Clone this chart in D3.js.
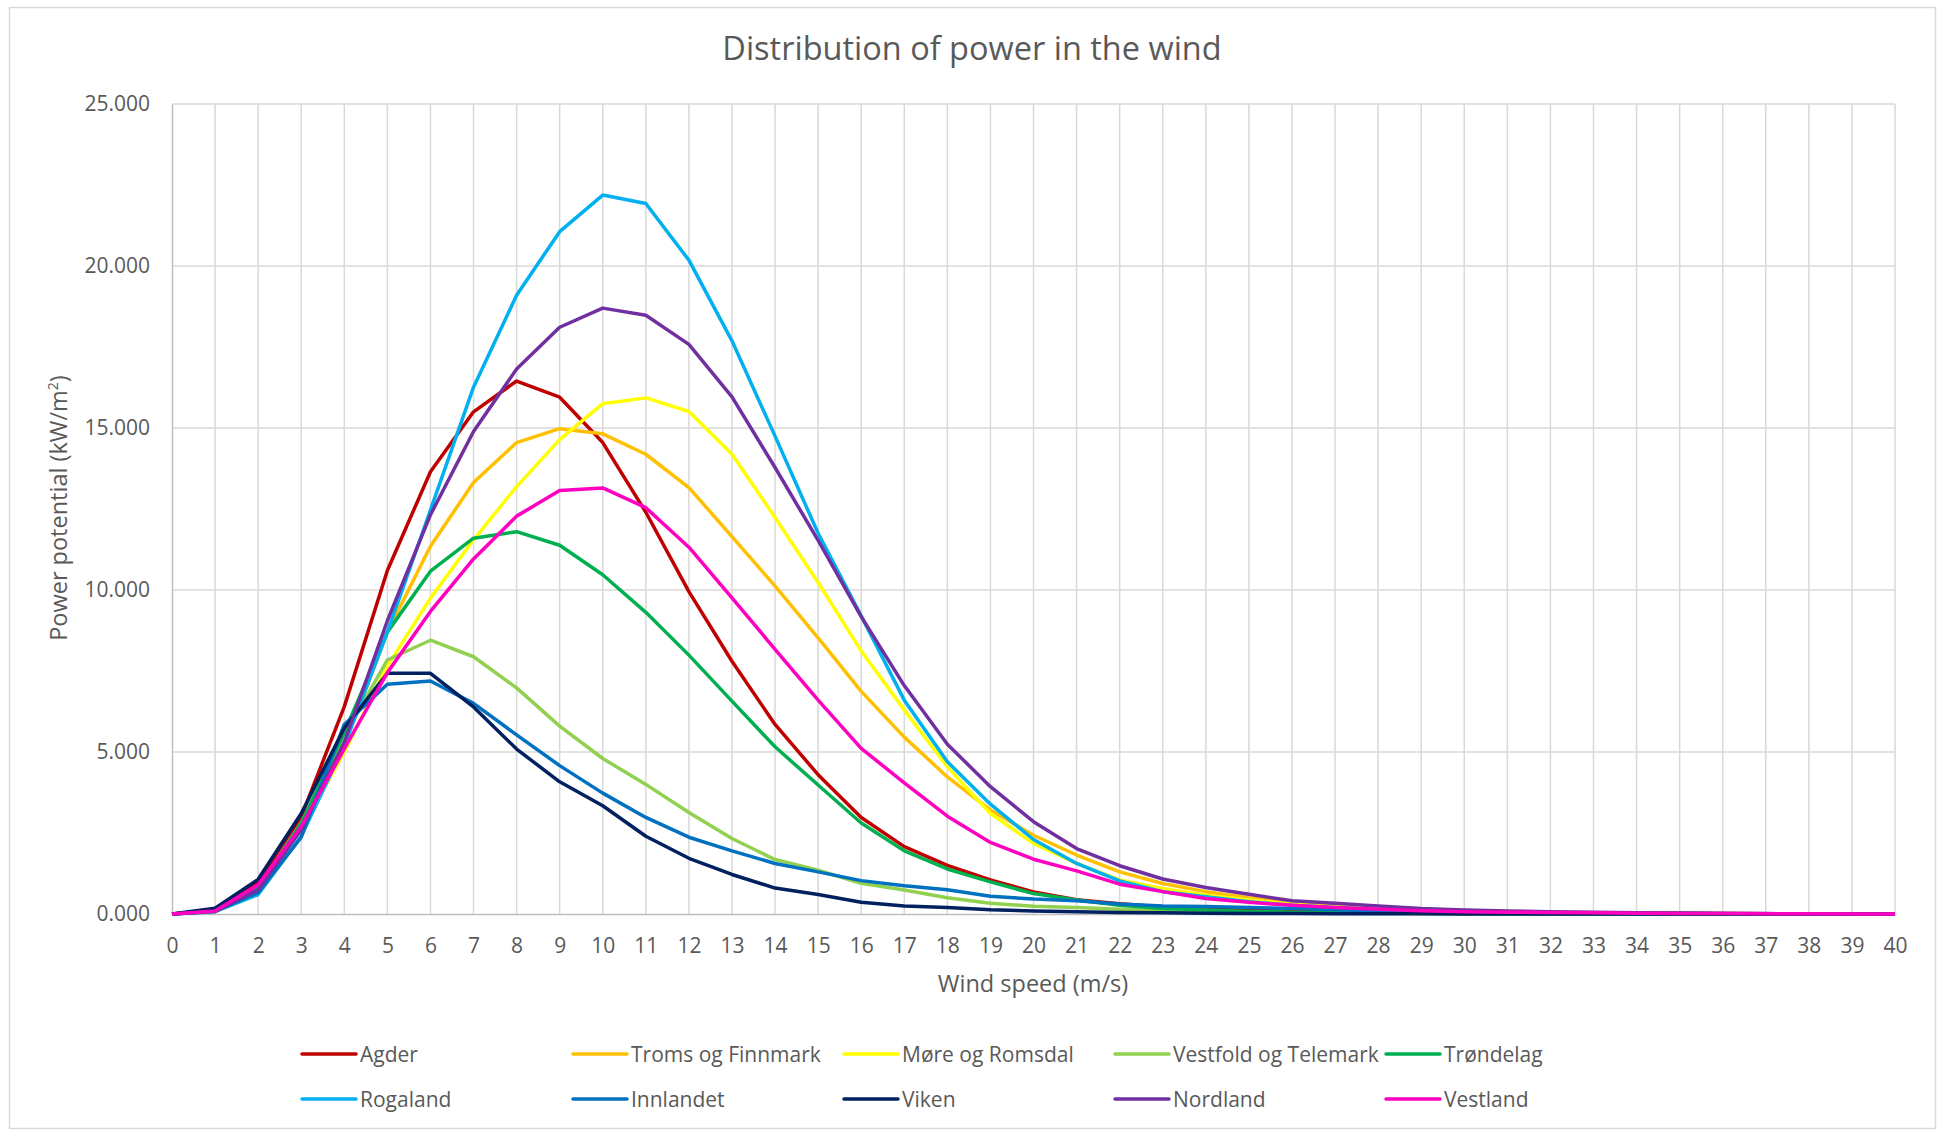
<!DOCTYPE html>
<html>
<head>
<meta charset="utf-8">
<script src="https://cdn.jsdelivr.net/npm/d3@7"></script>
<style>
  body { margin: 0; background: #fff; }
  text { font-family: "Open Sans", "Noto Sans", sans-serif; fill: #595959; }
</style>
</head>
<body>
<div id="chart"></div>
<script>
// wind speed categories 0..40 m/s
const speeds = d3.range(0, 41);
const yTicks = [0, 5000, 10000, 15000, 20000, 25000];

// power potential per region (kW/m2)
const agder    = [0,120,1000,3000,6400,10600,13650,15500,16450,15950,14550,12400,9950,7800,5850,4300,2980,2080,1500,1050,680,440,320,220,160,120,80,60,45,35,25,20,15,10,8,6,4,3,2,1,0];
const troms    = [0,90,800,2800,5200,8700,11350,13320,14550,14980,14820,14190,13160,11650,10120,8520,6870,5460,4230,3210,2430,1820,1300,940,690,500,340,250,170,120,80,60,50,40,30,20,15,10,6,3,0];
const more     = [0,80,750,2600,5000,7650,9750,11550,13190,14640,15750,15930,15510,14190,12240,10230,8120,6300,4540,3100,2180,1560,1050,790,580,430,300,220,150,100,70,50,35,25,18,12,8,5,3,2,0];
const vestfold = [0,90,800,2800,5500,7840,8450,7940,6980,5800,4800,4000,3130,2330,1680,1350,950,740,500,330,240,200,150,100,70,50,35,25,18,12,8,6,4,3,2,1,1,0,0,0,0];
const trondelag= [0,90,800,2800,5600,8700,10580,11600,11800,11380,10470,9310,7990,6570,5160,3980,2810,1950,1390,990,630,430,270,170,120,80,55,40,30,20,15,10,8,6,4,3,2,1,1,0,0];
const rogaland = [0,70,600,2400,5200,8700,12470,16260,19100,21060,22190,21930,20180,17690,14750,11750,9200,6600,4700,3390,2300,1560,1020,690,530,380,270,200,140,100,70,50,35,25,18,12,8,5,3,2,0];
const innlandet= [0,90,660,2370,5850,7090,7190,6500,5530,4580,3730,2980,2370,1950,1560,1300,1030,870,750,550,460,410,310,250,230,200,170,130,100,80,60,45,35,25,18,12,8,5,3,2,0];
const viken    = [0,180,1070,3100,5740,7430,7430,6390,5090,4080,3340,2400,1720,1220,800,600,360,250,200,130,90,70,50,35,25,18,12,8,6,4,3,2,1,1,0,0,0,0,0,0,0];
const nordland = [0,80,750,2600,5300,9050,12320,14890,16820,18110,18700,18480,17580,15960,13780,11530,9180,7050,5240,3930,2850,2020,1490,1080,820,610,410,330,250,170,120,90,70,55,40,30,20,12,8,4,0];
const vestland = [0,90,900,2700,5100,7450,9340,10960,12280,13070,13150,12540,11320,9760,8170,6600,5110,4050,3020,2210,1690,1330,920,690,480,360,270,200,150,100,70,55,45,35,25,18,12,8,5,3,0];

const seriesNames  = ['Agder','Troms og Finnmark','Møre og Romsdal','Vestfold og Telemark','Trøndelag','Rogaland','Innlandet','Viken','Nordland','Vestland'];
const seriesValues = [agder, troms, more, vestfold, trondelag, rogaland, innlandet, viken, nordland, vestland];
const seriesColors = ['#C00000','#FFC000','#FFFF00','#92D050','#00B050','#00B0F0','#0070C0','#002060','#7030A0','#FF00C0'];

const W = 1939, H = 1131;
const margin = {top: 104, right: 44, bottom: 217, left: 172};
const w = W - margin.left - margin.right;
const h = H - margin.top - margin.bottom;

const svg = d3.select('#chart').append('svg')
  .attr('width', W)
  .attr('height', H);

// chart border
svg.append('rect')
  .attr('x', 9.5).attr('y', 7.5)
  .attr('width', 1926).attr('height', 1121)
  .attr('fill', '#fff')
  .attr('stroke', '#d9d9d9')
  .attr('stroke-width', 1.5);

svg.append('text')
  .attr('x', 972).attr('y', 60)
  .attr('text-anchor', 'middle')
  .style('font-size', '32.5px')
  .text('Distribution of power in the wind');

const g = svg.append('g').attr('transform', `translate(${margin.left},${margin.top})`);

const x = d3.scaleLinear().domain([0, 40]).range([0, w]);
const y = d3.scaleLinear().domain([0, 25000]).range([h, 0]);

// vertical gridlines
g.append('g')
  .selectAll('line')
  .data(speeds.slice(1))
  .join('line')
    .attr('x1', d => x(d)).attr('x2', d => x(d))
    .attr('y1', 0).attr('y2', h)
    .attr('stroke', '#d9d9d9')
    .attr('stroke-width', 1.5);

// horizontal gridlines
g.append('g')
  .selectAll('line')
  .data(yTicks.slice(1))
  .join('line')
    .attr('x1', 0).attr('x2', w)
    .attr('y1', d => y(d)).attr('y2', d => y(d))
    .attr('stroke', '#d9d9d9')
    .attr('stroke-width', 1.5);

// y axis
const fmt = d => d3.format('.3f')(d / 1000);
const yAxis = g.append('g')
  .call(d3.axisLeft(y).tickValues(yTicks).tickFormat(fmt).tickSize(0).tickPadding(22));
yAxis.select('.domain').attr('stroke', '#bfbfbf').attr('stroke-width', 1.5);
yAxis.selectAll('text').style('font-size', '21px').attr('fill', '#595959');

// x axis
const xAxis = g.append('g')
  .attr('transform', `translate(0,${h})`)
  .call(d3.axisBottom(x).tickValues(speeds).tickFormat(d3.format('d')).tickSize(0).tickPadding(24));
xAxis.select('.domain').attr('stroke', '#bfbfbf').attr('stroke-width', 1.5);
xAxis.selectAll('text').style('font-size', '21px').attr('fill', '#595959');

// axis titles
svg.append('text')
  .attr('x', 1033).attr('y', 992)
  .attr('text-anchor', 'middle')
  .style('font-size', '23.5px')
  .text('Wind speed (m/s)');

svg.append('text')
  .attr('transform', 'translate(67,508) rotate(-90)')
  .attr('text-anchor', 'middle')
  .style('font-size', '23.5px')
  .html('Power potential (kW/m<tspan dy="-9" style="font-size:14px">2</tspan><tspan dy="9">)</tspan>');

// lines
const line = d3.line()
  .x((d, i) => x(speeds[i]))
  .y(d => y(d));

g.append('g')
  .selectAll('path')
  .data(seriesValues)
  .join('path')
    .attr('d', d => line(d))
    .attr('fill', 'none')
    .attr('stroke', (d, i) => seriesColors[i])
    .attr('stroke-width', 3.5)
    .attr('stroke-linejoin', 'round');

// legend, 5 columns x 2 rows
const legend = svg.append('g')
  .selectAll('g')
  .data(seriesNames)
  .join('g')
    .attr('transform', (d, i) => `translate(${302 + (i % 5) * 271},${1054 + Math.floor(i / 5) * 45})`);

legend.append('line')
  .attr('x1', 0).attr('x2', 54)
  .attr('stroke', (d, i) => seriesColors[i])
  .attr('stroke-width', 3.5)
  .attr('stroke-linecap', 'round');

legend.append('text')
  .attr('x', 58).attr('y', 7.5)
  .style('font-size', '21px')
  .text(d => d);
</script>
</body>
</html>
